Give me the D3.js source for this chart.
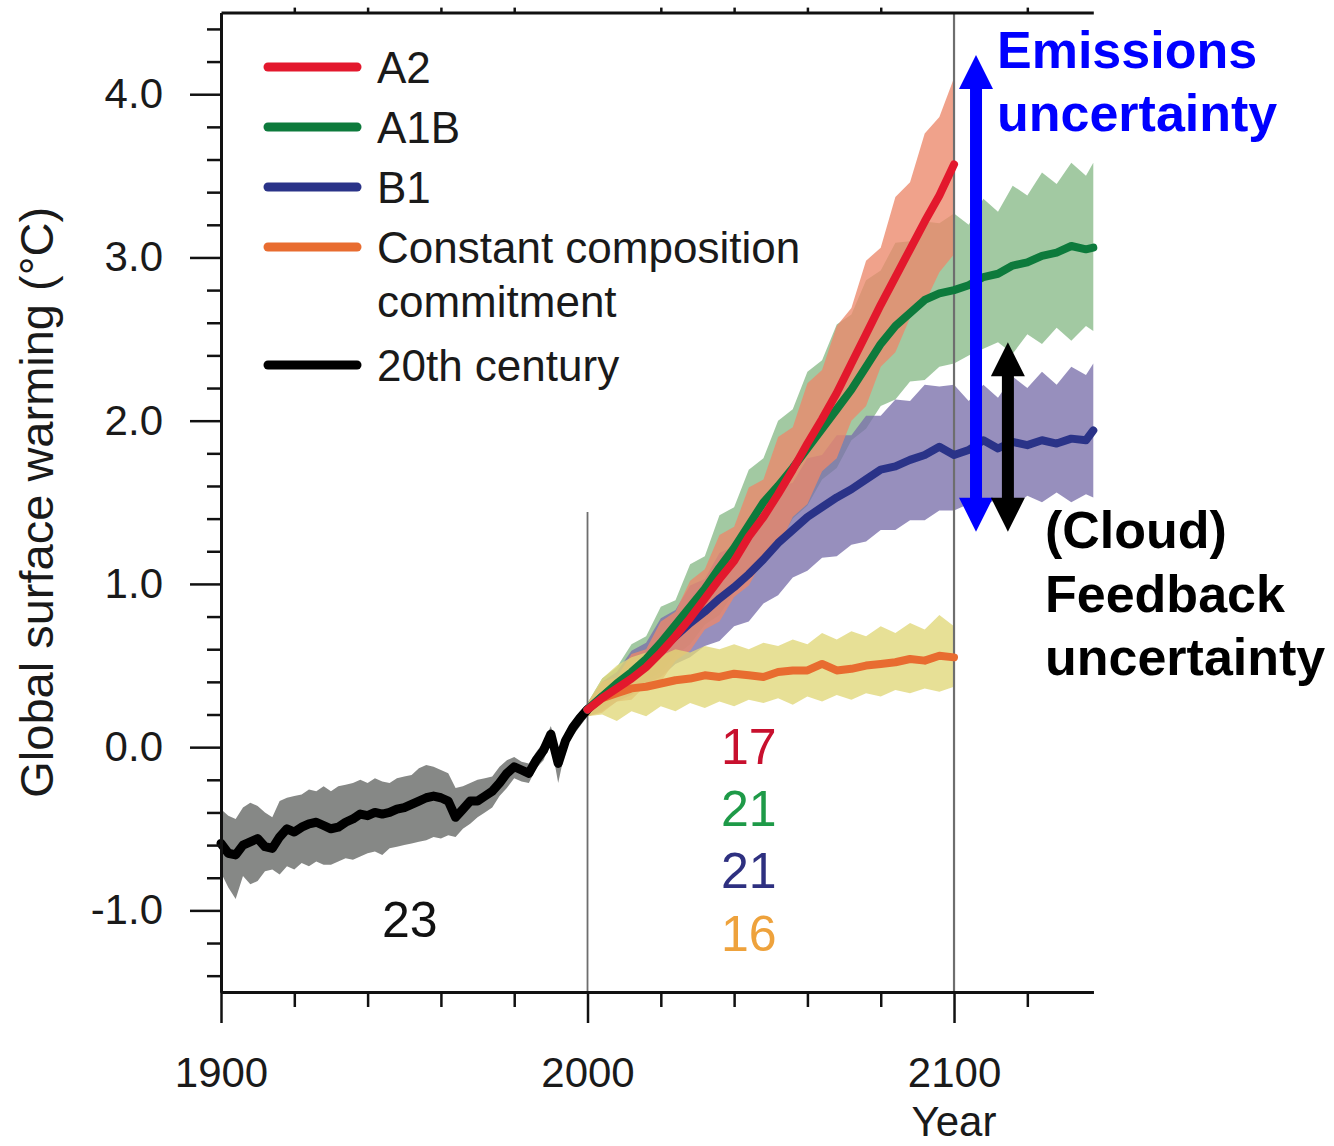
<!DOCTYPE html>
<html>
<head>
<meta charset="utf-8">
<script src="https://cdn.jsdelivr.net/npm/d3@7"></script>
<style>
  body { margin: 0; background: #fff; }
  svg { display: block; font-family: "Liberation Sans", Arial, Helvetica, sans-serif; }
</style>
</head>
<body>
<div id="chart"></div>
<script>
// ---- data ----
const years20 = [1900,1902,1904,1906,1908,1910,1912,1914,1916,1918,1920,1922,1924,1926,1928,1930,1932,1934,1936,1938,
  1940,1942,1944,1946,1948,1950,1952,1954,1956,1958,1960,1962,1964,1966,1968,1970,1972,1974,1976,1978,
  1980,1982,1984,1986,1988,1990,1992,1994,1996,1998,2000];
const mean20 = [-0.59,-0.65,-0.66,-0.60,-0.58,-0.56,-0.61,-0.62,-0.55,-0.50,
  -0.52,-0.49,-0.47,-0.46,-0.48,-0.50,-0.49,-0.46,-0.44,-0.41,
  -0.42,-0.40,-0.41,-0.40,-0.38,-0.37,-0.35,-0.33,-0.31,-0.30,
  -0.31,-0.33,-0.43,-0.38,-0.33,-0.33,-0.30,-0.27,-0.22,-0.16,
  -0.12,-0.14,-0.16,-0.08,-0.02,0.08,-0.10,0.04,0.12,0.18,0.23];
const hi20 = [-0.38,-0.42,-0.44,-0.37,-0.34,-0.36,-0.40,-0.43,-0.33,-0.31,
  -0.30,-0.29,-0.26,-0.27,-0.24,-0.27,-0.24,-0.23,-0.22,-0.20,
  -0.22,-0.19,-0.21,-0.22,-0.19,-0.18,-0.17,-0.13,-0.11,-0.12,
  -0.14,-0.16,-0.25,-0.24,-0.22,-0.20,-0.19,-0.18,-0.12,-0.08,
  -0.06,-0.09,-0.10,-0.03,0.03,0.13,-0.04,0.09,0.16,0.22,0.27];
const lo20 = [-0.77,-0.86,-0.93,-0.79,-0.84,-0.82,-0.76,-0.75,-0.78,-0.73,
  -0.75,-0.71,-0.73,-0.70,-0.72,-0.72,-0.70,-0.68,-0.69,-0.67,
  -0.65,-0.64,-0.66,-0.62,-0.61,-0.60,-0.59,-0.58,-0.57,-0.55,
  -0.56,-0.54,-0.55,-0.50,-0.47,-0.43,-0.40,-0.37,-0.30,-0.25,
  -0.19,-0.21,-0.22,-0.13,-0.08,0.03,-0.22,-0.01,0.07,0.13,0.19];

const futureYears = [2000,2004,2008,2012,2016,2020,2024,2028,2032,2036,2040,2044,2048,
  2052,2056,2060,2064,2068,2072,2076,2080,2084,2088,2092,2096,2100];
const extYears = [2104,2108,2112,2116,2120,2124,2128,2132,2136,2138];

const a2Mean = [0.23,0.30,0.36,0.42,0.49,0.58,0.68,0.79,0.91,1.03,1.14,1.29,1.41,
  1.55,1.70,1.86,2.01,2.17,2.35,2.53,2.71,2.88,3.05,3.22,3.38,3.57];
const a2Hi = [0.27,0.40,0.43,0.57,0.60,0.77,0.83,1.02,1.09,1.30,1.35,1.59,1.64,
  1.90,1.96,2.23,2.31,2.58,2.69,2.98,3.06,3.37,3.46,3.76,3.86,4.10];
const a2Lo = [0.19,0.21,0.28,0.29,0.38,0.40,0.53,0.59,0.72,0.77,0.92,0.99,1.15,
  1.22,1.41,1.49,1.69,1.77,2.00,2.09,2.33,2.42,2.63,2.72,2.91,3.02];

const a1bMean = [0.23,0.31,0.39,0.46,0.54,0.64,0.75,0.86,0.97,1.10,1.22,1.36,1.50,
  1.60,1.71,1.83,1.95,2.07,2.19,2.33,2.47,2.58,2.66,2.74,2.78,2.80,
  2.83,2.88,2.90,2.95,2.97,3.01,3.03,3.07,3.05,3.06];
const a1bHi = [0.27,0.42,0.49,0.63,0.68,0.86,0.90,1.12,1.17,1.42,1.47,1.70,1.77,
  2.00,2.07,2.30,2.37,2.59,2.65,2.86,2.92,3.09,3.10,3.22,3.21,3.27,
  3.20,3.36,3.28,3.44,3.38,3.52,3.45,3.58,3.50,3.58];
const a1bLo = [0.19,0.23,0.30,0.33,0.41,0.46,0.56,0.63,0.75,0.81,0.95,1.02,1.17,
  1.24,1.40,1.48,1.64,1.71,1.88,1.95,2.09,2.13,2.24,2.25,2.33,2.35,
  2.40,2.44,2.48,2.41,2.53,2.47,2.57,2.49,2.58,2.55];

const b1Mean = [0.23,0.31,0.38,0.45,0.52,0.60,0.68,0.76,0.83,0.91,0.98,1.06,1.15,
  1.25,1.33,1.41,1.47,1.53,1.58,1.64,1.70,1.72,1.76,1.79,1.84,1.79,
  1.82,1.88,1.83,1.87,1.85,1.88,1.86,1.89,1.88,1.94];
const b1Hi = [0.27,0.40,0.46,0.59,0.64,0.79,0.84,0.99,1.03,1.19,1.23,1.39,1.43,
  1.59,1.62,1.77,1.79,1.91,1.91,2.03,2.03,2.13,2.12,2.22,2.21,2.22,
  2.12,2.22,2.14,2.27,2.20,2.30,2.22,2.33,2.28,2.35];
const b1Lo = [0.19,0.22,0.28,0.32,0.39,0.43,0.51,0.55,0.62,0.65,0.74,0.77,0.88,
  0.93,1.04,1.08,1.16,1.17,1.24,1.26,1.33,1.33,1.39,1.39,1.45,1.45,
  1.49,1.48,1.52,1.47,1.54,1.50,1.56,1.50,1.55,1.53];

const ccMean = [0.23,0.30,0.33,0.36,0.37,0.39,0.41,0.42,0.44,0.43,0.45,0.44,0.43,
  0.46,0.47,0.47,0.51,0.47,0.48,0.50,0.51,0.52,0.54,0.53,0.56,0.55];
const ccHi = [0.27,0.42,0.50,0.55,0.58,0.56,0.60,0.58,0.62,0.60,0.63,0.60,0.64,
  0.62,0.66,0.63,0.70,0.66,0.71,0.68,0.74,0.70,0.76,0.72,0.81,0.74];
const ccLo = [0.19,0.20,0.16,0.22,0.19,0.25,0.22,0.27,0.24,0.28,0.25,0.29,0.27,
  0.30,0.26,0.31,0.28,0.32,0.29,0.33,0.31,0.35,0.33,0.36,0.34,0.37];

const legendNames = [["A2"], ["A1B"], ["B1"], ["Constant composition", "commitment"], ["20th century"]];
const legendColors = ["#e3182d", "#0d7a3c", "#2a3388", "#e86c30", "#000000"];

const modelCounts = ["17", "21", "21", "16"];
const countColors = ["#c8102e", "#1e9a48", "#2e3080", "#eea23c"];
const count20 = "23";

const yMajor = [-1, 0, 1, 2, 3, 4];
const xMajor = [1900, 2000, 2100];

// ---- layout ----
const W = 1334, H = 1146;
const x = d3.scaleLinear().domain([1900, 2138]).range([221, 1093.3]);
const y = d3.scaleLinear().domain([-1.5, 4.5]).range([992, 12.6]);

const svg = d3.select("#chart").append("svg")
  .attr("width", W).attr("height", H);

const rows = (yrs, m, lo, hi) => yrs.map((yr, i) => ({ year: yr, mean: m[i], lo: lo[i], hi: hi[i] }));
const s20 = rows(years20, mean20, lo20, hi20);
const sA2 = rows(futureYears, a2Mean, a2Lo, a2Hi);
const sA1B = rows(futureYears.concat(extYears), a1bMean, a1bLo, a1bHi);
const sB1 = rows(futureYears.concat(extYears), b1Mean, b1Lo, b1Hi);
const sCC = rows(futureYears, ccMean, ccLo, ccHi);

const area = d3.area().x(d => x(d.year)).y0(d => y(d.lo)).y1(d => y(d.hi));
const line = d3.line().x(d => x(d.year)).y(d => y(d.mean));

// shaded ranges
svg.append("path").datum(s20).attr("d", area).attr("fill", "#868886");
const bands = [[sA1B, "#88ba88"], [sB1, "#7a70aa"], [sA2, "#ec886a"], [sCC, "#e0d779"]];
bands.forEach(([d, c]) => {
  svg.append("path").datum(d).attr("d", area).attr("fill", c).attr("fill-opacity", 0.78);
});

// reference verticals
svg.append("line")
  .attr("x1", x(2000)).attr("x2", x(2000)).attr("y1", y(1.44)).attr("y2", y(-1.5))
  .attr("stroke", "#6e6e6e").attr("stroke-width", 1.8);
svg.append("line")
  .attr("x1", x(2100)).attr("x2", x(2100)).attr("y1", y(4.5)).attr("y2", y(-1.5))
  .attr("stroke", "#6e6e6e").attr("stroke-width", 2.2);

// mean lines
const lines = [[s20, "#000000", 9], [sCC, "#e86c30", 8], [sB1, "#2a3388", 8], [sA1B, "#0d7a3c", 8], [sA2, "#e3182d", 8]];
lines.forEach(([d, c, w]) => {
  svg.append("path").datum(d).attr("d", line)
    .attr("fill", "none").attr("stroke", c).attr("stroke-width", w)
    .attr("stroke-linejoin", "round").attr("stroke-linecap", "round");
});

// axes
const fmt = d => d.toFixed(1);
const leftAxis = svg.append("g").attr("transform", `translate(${x(1900)},0)`)
  .call(d3.axisLeft(y).tickValues(yMajor).tickFormat(fmt).tickSize(31).tickSizeOuter(0).tickPadding(27));
const leftMinor = svg.append("g").attr("transform", `translate(${x(1900)},0)`)
  .call(d3.axisLeft(y).tickValues([-1.4,-1.2,-0.8,-0.6,-0.4,-0.2,0.2,0.4,0.6,0.8,1.2,1.4,1.6,1.8,2.2,2.4,2.6,2.8,3.2,3.4,3.6,3.8,4.2,4.4])
    .tickFormat("").tickSize(14).tickSizeOuter(0));
const bottomAxis = svg.append("g").attr("transform", `translate(0,${y(-1.5)})`)
  .call(d3.axisBottom(x).tickValues(xMajor).tickFormat(d3.format("d")).tickSize(31).tickSizeOuter(0).tickPadding(34));
const bottomMinor = svg.append("g").attr("transform", `translate(0,${y(-1.5)})`)
  .call(d3.axisBottom(x).tickValues([1920,1940,1960,1980,2020,2040,2060,2080,2120]).tickFormat("").tickSize(15).tickSizeOuter(0));
const topAxis = svg.append("g").attr("transform", `translate(0,${y(4.5)})`)
  .call(d3.axisTop(x).tickValues([1920,1940,1960,1980,2020,2040,2060,2080,2120]).tickFormat("").tickSize(5).tickSizeOuter(0));

[leftAxis, leftMinor, bottomAxis, bottomMinor, topAxis].forEach(g => {
  g.select(".domain").attr("stroke", "#111").attr("stroke-width", 3);
  g.selectAll(".tick line").attr("stroke", "#111").attr("stroke-width", 2.5);
  g.selectAll(".tick text").attr("fill", "#1a1a1a").style("font-size", "42px")
    .style("font-family", '"Liberation Sans", Arial, sans-serif');
});

// axis titles
svg.append("text")
  .attr("transform", `translate(53,${y(1.5)}) rotate(-90)`)
  .attr("text-anchor", "middle").attr("fill", "#1a1a1a")
  .style("font-size", "47px").text("Global surface warming (°C)");
svg.append("text")
  .attr("x", x(2100)).attr("y", 1136).attr("text-anchor", "middle").attr("fill", "#1a1a1a")
  .style("font-size", "42px").text("Year");

// legend
let ly = 67;
legendNames.forEach((names, i) => {
  svg.append("line").attr("x1", 268).attr("x2", 357).attr("y1", ly).attr("y2", ly)
    .attr("stroke", legendColors[i]).attr("stroke-width", 9).attr("stroke-linecap", "round");
  names.forEach((t, j) => {
    svg.append("text").attr("x", 377).attr("y", ly + j * 54).attr("dy", "0.36em")
      .attr("fill", "#1a1a1a").style("font-size", "44px").text(t);
  });
  ly += names.length > 1 ? 118 : 60;
});

// model counts
const countVals = [0.01, -0.37, -0.75, -1.14];
modelCounts.forEach((t, i) => {
  svg.append("text").attr("x", x(2044)).attr("y", y(countVals[i])).attr("dy", "0.36em")
    .attr("text-anchor", "middle").attr("fill", countColors[i])
    .style("font-size", "50px").text(t);
});
svg.append("text").attr("x", x(1951.5)).attr("y", y(-1.05)).attr("dy", "0.36em")
  .attr("text-anchor", "middle").attr("fill", "#111").style("font-size", "50px").text(count20);

// uncertainty arrows
function arrow(year, from, to, color) {
  const cx = x(year), y1 = y(from), y2 = y(to), hh = 34, hw = 17;
  svg.append("line").attr("x1", cx).attr("x2", cx).attr("y1", y1 - hh + 2).attr("y2", y2 + hh - 2)
    .attr("stroke", color).attr("stroke-width", 12);
  svg.append("path").attr("d", `M${cx - hw},${y2 + hh}L${cx},${y2}L${cx + hw},${y2 + hh}Z`).attr("fill", color);
  svg.append("path").attr("d", `M${cx - hw},${y1 - hh}L${cx},${y1}L${cx + hw},${y1 - hh}Z`).attr("fill", color);
}
arrow(2106, 1.32, 4.24, "#0000ff");
arrow(2114.7, 1.32, 2.48, "#000000");

// annotations
const emis = svg.append("text").attr("fill", "#0000ff").style("font-size", "52px").style("font-weight", "bold");
emis.append("tspan").attr("x", 997).attr("y", 68).text("Emissions");
emis.append("tspan").attr("x", 997).attr("y", 131).text("uncertainty");
const fb = svg.append("text").attr("fill", "#000").style("font-size", "52px").style("font-weight", "bold");
fb.append("tspan").attr("x", 1045).attr("y", 548).text("(Cloud)");
fb.append("tspan").attr("x", 1045).attr("y", 612).text("Feedback");
fb.append("tspan").attr("x", 1045).attr("y", 675).text("uncertainty");
</script>
</body>
</html>
